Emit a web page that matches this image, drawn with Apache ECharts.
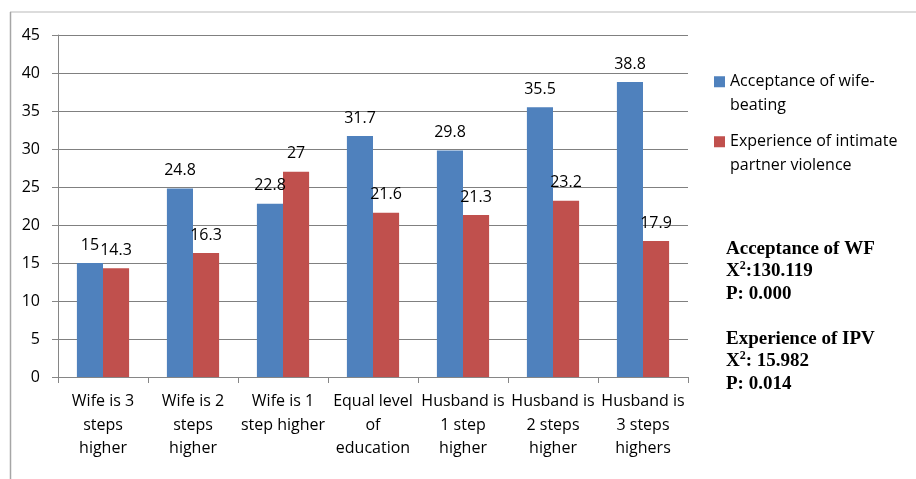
<!DOCTYPE html>
<html>
<head>
<meta charset="utf-8">
<script src="https://cdn.jsdelivr.net/npm/echarts@6/dist/echarts.min.js"></script>
<style>
html,body{margin:0;padding:0;background:#fff;}
#chart{width:916px;height:479px;}
</style>
</head>
<body>
<div id="chart"></div>
<script>
const categories = [
  "Wife is 3\nsteps\nhigher",
  "Wife is 2\nsteps\nhigher",
  "Wife is 1\nstep higher",
  "Equal level\nof\neducation",
  "Husband is\n1 step\nhigher",
  "Husband is\n2 steps\nhigher",
  "Husband is\n3 steps\nhighers"
];
const acceptance = [15, 24.8, 22.8, 31.7, 29.8, 35.5, 38.8];
const experience = [14.3, 16.3, 27, 21.6, 21.3, 23.2, 17.9];
const seriesNames = ["Acceptance of wife-\nbeating", "Experience of intimate\npartner violence"];
const yTicks = { min: 0, max: 45, interval: 5 };

const FONT = "'Open Sans', 'Liberation Sans', sans-serif";
const SERIF = "'Liberation Serif', 'DejaVu Serif', serif";
const legendIcon = 'path://M0,6.5L11,6.5L11,17.5L0,17.5Z M0,0L0.001,0L0.001,0.001Z M0,48L0.001,48L0.001,47.999Z';

const chart = echarts.init(document.getElementById('chart'));
const labelStyle = { show: true, position: 'top', distance: 10, fontFamily: FONT, fontSize: 16, color: '#000' };

const boldTok = { fontFamily: SERIF, fontWeight: 'bold', fontSize: 19, color: '#000', lineHeight: 22.5 };
const supTok = { fontFamily: SERIF, fontWeight: 'bold', fontSize: 12, color: '#000', lineHeight: 22.5, verticalAlign: 'top' };

chart.setOption({
  animation: false,
  backgroundColor: '#fff',
  grid: { left: 58, right: 228, top: 35, bottom: 102, containLabel: false },
  legend: {
    orient: 'vertical',
    left: 714,
    top: 69.7,
    padding: 0,
    itemWidth: 11,
    itemHeight: 48,
    itemGap: 12,
    icon: legendIcon,
    textStyle: { fontFamily: FONT, fontSize: 16, color: '#000', lineHeight: 24 },
    data: seriesNames
  },
  xAxis: {
    type: 'category',
    data: categories,
    axisLine: { show: true, lineStyle: { color: '#868686', width: 1 } },
    axisTick: { show: true, length: 6, lineStyle: { color: '#868686' } },
    axisLabel: { interval: 0, margin: 13, fontFamily: FONT, fontSize: 16, color: '#000', lineHeight: 23.5 },
    splitLine: { show: false }
  },
  yAxis: {
    type: 'value',
    min: yTicks.min, max: yTicks.max, interval: yTicks.interval,
    axisLine: { show: true, lineStyle: { color: '#868686', width: 1 } },
    axisTick: { show: true, length: 6, lineStyle: { color: '#868686' } },
    axisLabel: { margin: 18, fontFamily: FONT, fontSize: 16, color: '#000' },
    splitLine: { show: true, lineStyle: { color: '#808080', width: 1 } }
  },
  series: [
    { name: seriesNames[0], type: 'bar', data: acceptance, barGap: '0%', barCategoryGap: '42%',
      itemStyle: { color: '#4F81BD' }, label: labelStyle },
    { name: seriesNames[1], type: 'bar', data: experience, barGap: '0%', barCategoryGap: '42%',
      itemStyle: { color: '#C0504D' }, label: labelStyle }
  ],
  graphic: [
    { type: 'line', shape: { x1: 10, y1: 12, x2: 916, y2: 12 }, style: { stroke: '#d0d0d0', lineWidth: 1.5 }, silent: true },
    { type: 'line', shape: { x1: 10.5, y1: 12, x2: 10.5, y2: 479 }, style: { stroke: '#a6a6a6', lineWidth: 1.5 }, silent: true },
    {
      type: 'text', left: 726, top: 239.25,
      style: {
        text: '{b|Acceptance of WF}\n{b|X}{s|2}{b|:130.119}\n{b|P: 0.000}\n{b| }\n{b|Experience of IPV}\n{b|X}{s|2}{b|: 15.982}\n{b|P: 0.014}',
        rich: { b: boldTok, s: supTok },
        fill: '#000'
      }
    }
  ]
});
</script>
</body>
</html>
